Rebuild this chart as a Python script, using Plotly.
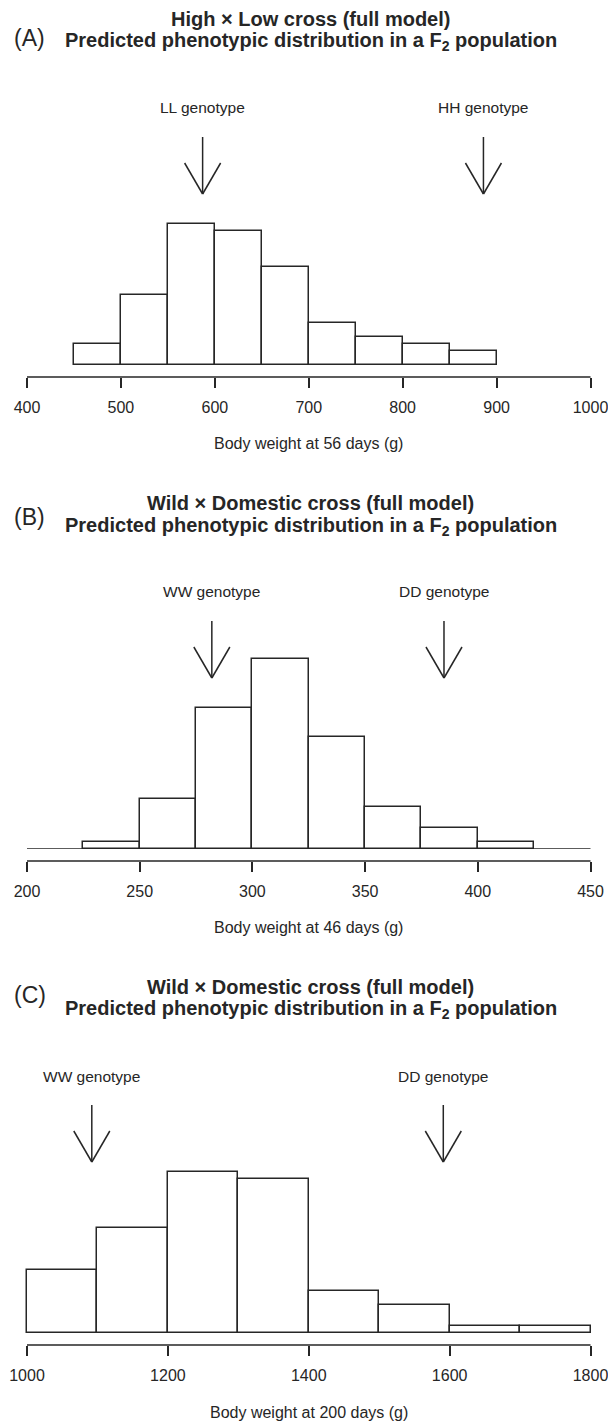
import plotly.graph_objects as go

# ---------------- data ----------------
# Panel A: High x Low cross, body weight at 56 days (relative frequency, %)
a_edges = [450, 500, 550, 600, 650, 700, 750, 800, 850, 900]
a_freq = [3.7, 12.3, 24.8, 23.6, 17.2, 7.4, 4.9, 3.7, 2.5]
a_ticks = [400, 500, 600, 700, 800, 900, 1000]
a_geno_labels = ["LL genotype", "HH genotype"]
a_geno_means = [587, 886]

# Panel B: Wild x Domestic cross, body weight at 46 days
b_edges = [225, 250, 275, 300, 325, 350, 375, 400, 425]
b_freq = [1.2, 8.7, 24.7, 33.3, 19.7, 7.4, 3.7, 1.2]
b_ticks = [200, 250, 300, 350, 400, 450]
b_geno_labels = ["WW genotype", "DD genotype"]
b_geno_means = [282, 385]

# Panel C: Wild x Domestic cross, body weight at 200 days
c_edges = [1000, 1100, 1200, 1300, 1400, 1500, 1600, 1700, 1800]
c_freq = [11.1, 18.6, 28.5, 27.2, 7.4, 4.9, 1.2, 1.2]
c_ticks = [1000, 1200, 1400, 1600, 1800]
c_geno_labels = ["WW genotype", "DD genotype"]
c_geno_means = [1092, 1591]

titles_line1 = ["High × Low cross (full model)",
                "Wild × Domestic cross (full model)",
                "Wild × Domestic cross (full model)"]
title_line2 = "Predicted phenotypic distribution in a F<sub>2</sub> population"
panel_tags = ["(A)", "(B)", "(C)"]
x_titles = ["Body weight at 56 days (g)",
            "Body weight at 46 days (g)",
            "Body weight at 200 days (g)"]

# ---------------- layout constants ----------------
W, H = 608, 1422
FONT = "Liberation Sans, Arial, Helvetica, sans-serif"
INK = "#262626"
LW = 1.5
X_LEFT, X_RIGHT = 27, 590.5   # pixel positions of first / last tick
PAD = 4                        # extra plot width so edge bars are not clipped
PANEL_STEP = 484
BASE_PX = 365     # bar baseline
AXIS_PX = 377     # axis line
TOP_PX = 120      # top of y domain
BAR_MAX_PX = [141, 190, 161]
TAG_PX = [38, 33, 27]


def py(p):
    return 1 - p / H


def px(p):
    return p / W


panels = [
    (a_edges, a_freq, a_ticks, a_geno_labels, a_geno_means),
    (b_edges, b_freq, b_ticks, b_geno_labels, b_geno_means),
    (c_edges, c_freq, c_ticks, c_geno_labels, c_geno_means),
]

fig = go.Figure()
shapes = []
annotations = []
layout_axes = {}

for i, (edges, freq, ticks, glabels, gmeans) in enumerate(panels):
    o = i * PANEL_STEP
    sfx = "" if i == 0 else str(i + 1)
    xname, yname = "x" + sfx, "y" + sfx
    centers = [(edges[k] + edges[k + 1]) / 2 for k in range(len(freq))]
    widths = [edges[k + 1] - edges[k] for k in range(len(freq))]

    fig.add_trace(go.Bar(
        x=centers, y=freq, width=widths,
        marker=dict(color="white", line=dict(color=INK, width=LW)),
        xaxis=xname, yaxis=yname, showlegend=False, hoverinfo="x+y"))

    span_px = BASE_PX - TOP_PX
    ytop = max(freq) * span_px / BAR_MAX_PX[i]
    unit = (ticks[-1] - ticks[0]) / (X_RIGHT - X_LEFT)   # data units per pixel

    layout_axes["xaxis" + sfx] = dict(
        domain=[px(X_LEFT - PAD), px(X_RIGHT + PAD)],
        range=[ticks[0] - PAD * unit, ticks[-1] + PAD * unit],
        anchor="free", position=py(AXIS_PX + o),
        tickmode="array", tickvals=ticks,
        ticks="outside", ticklen=10, tickwidth=LW, tickcolor=INK,
        ticklabelstandoff=6, ticklabeloverflow="allow",
        showline=False,
        showgrid=False, zeroline=False, automargin=False,
        tickfont=dict(family=FONT, size=16, color=INK),
        fixedrange=True,
    )
    layout_axes["yaxis" + sfx] = dict(
        domain=[py(BASE_PX + o), py(TOP_PX + o)],
        range=[0, ytop], anchor=xname, visible=False, fixedrange=True,
        automargin=False,
    )

    # axis line spanning first to last tick
    shapes.append(dict(type="line", xref=xname, yref="paper",
                       x0=ticks[0], x1=ticks[-1],
                       y0=py(AXIS_PX + o), y1=py(AXIS_PX + o),
                       line=dict(color=INK, width=LW)))

    # full-width baseline in panel B
    if i == 1:
        shapes.append(dict(type="line", xref=xname, yref=yname,
                           x0=ticks[0], x1=ticks[-1], y0=0, y1=0,
                           line=dict(color=INK, width=LW)))

    # genotype arrows and labels
    for lab, m in zip(glabels, gmeans):
        shapes.append(dict(type="line", xref=xname, yref="paper",
                           x0=m, x1=m, y0=py(137 + o), y1=py(194 + o),
                           line=dict(color=INK, width=LW)))
        for side in (-18, 18):
            shapes.append(dict(type="line", xref=xname, xsizemode="pixel",
                               xanchor=m, x0=side, x1=0, yref="paper",
                               y0=py(163 + o), y1=py(194 + o),
                               line=dict(color=INK, width=LW)))
        annotations.append(dict(x=m, xref=xname, y=py(108 + o), yref="paper",
                                text=lab, showarrow=False, xanchor="center",
                                yanchor="middle",
                                font=dict(family=FONT, size=15.5, color=INK)))

    # titles
    cx = px((X_LEFT + X_RIGHT) / 2 + 2)
    annotations.append(dict(x=cx, xref="paper", y=py(19 + o), yref="paper",
                            text="<b>" + titles_line1[i] + "</b>", showarrow=False,
                            xanchor="center", yanchor="middle",
                            font=dict(family=FONT, size=20, color=INK)))
    annotations.append(dict(x=cx, xref="paper", y=py(42 + o), yref="paper",
                            text="<b>" + title_line2 + "</b>", showarrow=False,
                            xanchor="center", yanchor="middle",
                            font=dict(family=FONT, size=20, color=INK)))
    annotations.append(dict(x=px(12), xref="paper", y=py(TAG_PX[i] + o), yref="paper",
                            text=panel_tags[i], showarrow=False,
                            xanchor="left", yanchor="middle",
                            font=dict(family=FONT, size=23, color=INK)))
    # x-axis title
    annotations.append(dict(x=px((X_LEFT + X_RIGHT) / 2), xref="paper",
                            y=py(444 + o), yref="paper",
                            text=x_titles[i], showarrow=False,
                            xanchor="center", yanchor="middle",
                            font=dict(family=FONT, size=16, color=INK)))

fig.update_layout(
    width=W, height=H, autosize=False,
    margin=dict(l=0, r=0, t=0, b=0, pad=0),
    paper_bgcolor="white", plot_bgcolor="white",
    bargap=0, showlegend=False,
    shapes=shapes, annotations=annotations,
    font=dict(family=FONT, color=INK),
    **layout_axes,
)

fig.write_html("out.html", config={"displayModeBar": False})
